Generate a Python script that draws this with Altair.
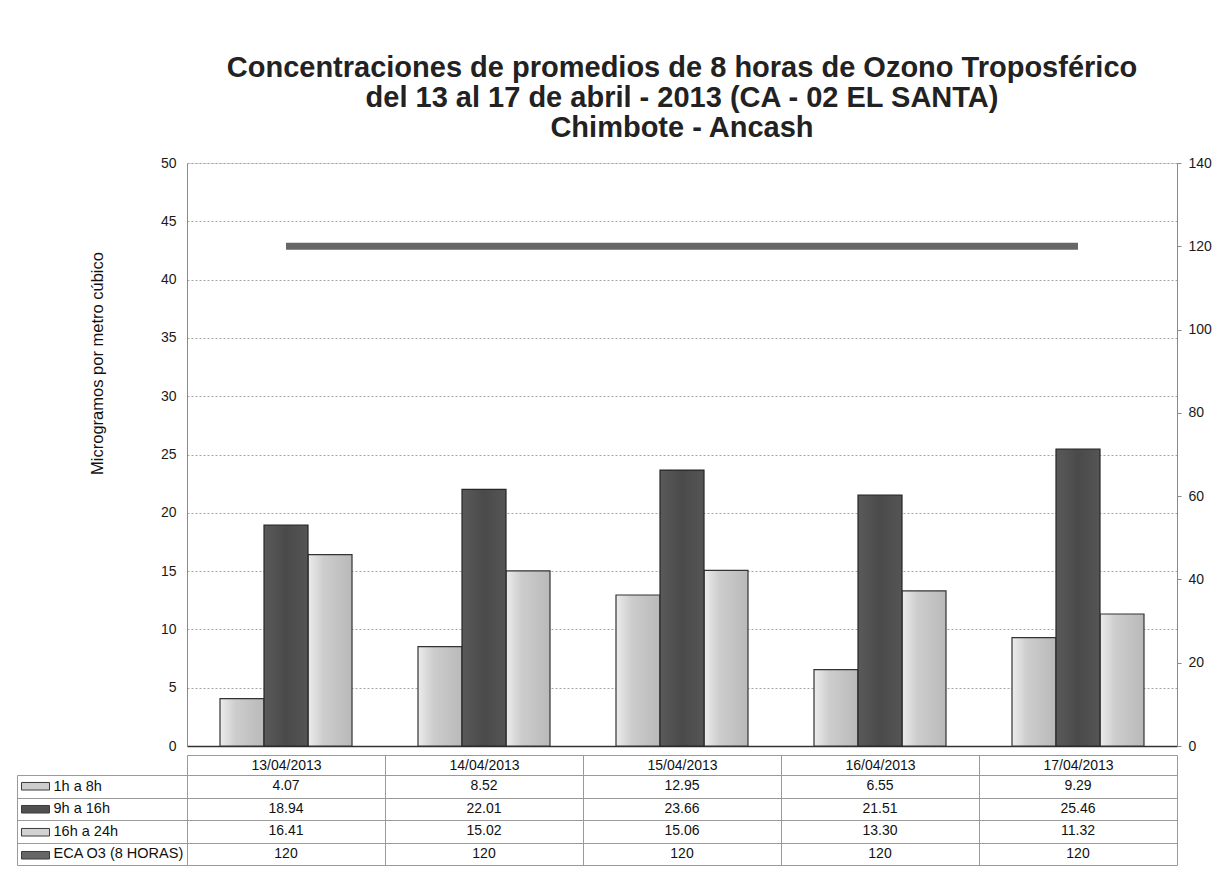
import altair as alt
import pandas as pd

# ---------------- data ----------------
dates = ["13/04/2013", "14/04/2013", "15/04/2013", "16/04/2013", "17/04/2013"]
series_names = ["1h a 8h", "9h a 16h", "16h a 24h"]
vals_1h_8h = [4.07, 8.52, 12.95, 6.55, 9.29]
vals_9h_16h = [18.94, 22.01, 23.66, 21.51, 25.46]
vals_16h_24h = [16.41, 15.02, 15.06, 13.30, 11.32]
eca_name = "ECA O3 (8 HORAS)"
eca_vals = [120, 120, 120, 120, 120]
title_lines = [
    "Concentraciones de promedios de 8 horas de Ozono Troposférico",
    "del 13 al 17 de abril - 2013 (CA - 02 EL SANTA)",
    "Chimbote - Ancash",
]
y_title = "Microgramos por metro cúbico"
left_ticks = [0, 5, 10, 15, 20, 25, 30, 35, 40, 45, 50]
right_ticks = [0, 20, 40, 60, 80, 100, 120, 140]

FONT = "Liberation Sans"

# ---------------- tables built from the arrays ----------------
all_series_vals = [vals_1h_8h, vals_9h_16h, vals_16h_24h]
bar_rows = []
for name, vals in zip(series_names, all_series_vals):
    for d, v in zip(dates, vals):
        bar_rows.append({"date": d, "series": name, "value": v})
bars_df = pd.DataFrame(bar_rows)
eca_df = pd.DataFrame({"date": dates, "eca": eca_vals})

row_order = series_names + [eca_name]
table_rows = []
for name, vals in zip(series_names, all_series_vals):
    for d, v in zip(dates, vals):
        table_rows.append({"date": d, "row": name, "txt": f"{v:.2f}"})
for d, v in zip(dates, eca_vals):
    table_rows.append({"date": d, "row": eca_name, "txt": f"{v}"})
table_df = pd.DataFrame(table_rows)

# ---------------- bar chart ----------------
light_grad = alt.Gradient(
    gradient="linear", x1=0, x2=1, y1=0, y2=0,
    stops=[alt.GradientStop(color="#ececec", offset=0),
           alt.GradientStop(color="#cdcdcd", offset=0.35),
           alt.GradientStop(color="#b9b9b9", offset=1)])
dark_grad = alt.Gradient(
    gradient="linear", x1=0, x2=1, y1=0, y2=0,
    stops=[alt.GradientStop(color="#5a5a5a", offset=0),
           alt.GradientStop(color="#4a4a4a", offset=0.5),
           alt.GradientStop(color="#555555", offset=1)])

x_bar = alt.X("date:N",
              scale=alt.Scale(domain=dates, paddingInner=0.3333, paddingOuter=0.1667),
              axis=alt.Axis(title=None, labels=False, ticks=False, domain=True,
                            domainColor="#333333", domainWidth=1.3, grid=False))
xoff = alt.XOffset("series:N", scale=alt.Scale(domain=series_names, paddingInner=0, paddingOuter=0))
y_left = alt.Y("value:Q",
               scale=alt.Scale(domain=[0, 50], nice=False),
               axis=alt.Axis(values=left_ticks, title=y_title, titleFont=FONT, titleFontSize=16.5,
                             titleFontWeight="normal", titleColor="#111111", titleX=-90, titleY=200,
                             titleBaseline="middle",
                             labelFont=FONT, labelFontSize=14, labelColor="#1a1a1a", labelPadding=11,
                             ticks=False, domain=True, domainColor="#8a8a8a",
                             grid=True, gridColor="#a5a5a5", gridDash=[2, 2], gridWidth=1))

light = alt.Chart(bars_df).transform_filter(
    alt.FieldOneOfPredicate(field="series", oneOf=[series_names[0], series_names[2]])
).mark_bar(fill=light_grad, stroke="#333333", strokeWidth=1.2).encode(x=x_bar, xOffset=xoff, y=y_left)

dark = alt.Chart(bars_df).transform_filter(
    alt.FieldEqualPredicate(field="series", equal=series_names[1])
).mark_bar(fill=dark_grad, stroke="#262626", strokeWidth=1.2).encode(x=x_bar, xOffset=xoff, y=y_left)

line = alt.Chart(eca_df).mark_line(color="#666666", strokeWidth=7).encode(
    x=x_bar,
    y=alt.Y("eca:Q", scale=alt.Scale(domain=[0, 140], nice=False),
            axis=alt.Axis(orient="right", values=right_ticks, title=None, grid=False,
                          ticks=True, tickSize=4, tickColor="#8a8a8a", domain=True,
                          domainColor="#8a8a8a", labelPadding=7, labelFont=FONT,
                          labelFontSize=14, labelColor="#1a1a1a")))

top = alt.layer(alt.layer(light, dark), line).resolve_scale(y="independent").properties(
    width=990, height=583,
    title=alt.TitleParams(text=title_lines, font=FONT, fontSize=29, fontWeight="bold",
                          color="#222222", anchor="middle", frame="group",
                          lineHeight=30, offset=13))

# ---------------- data table ----------------
x_tab_scale = alt.Scale(domain=dates, paddingInner=0, paddingOuter=0)
y_tab_scale = alt.Scale(domain=row_order, paddingInner=0, paddingOuter=0)

cells = alt.Chart(table_df).mark_text(font=FONT, fontSize=14, color="#111111").encode(
    x=alt.X("date:N", scale=x_tab_scale,
            axis=alt.Axis(orient="top", title=None, labelAngle=0, labelPadding=-10,
                          labelBaseline="middle", labelFont=FONT, labelFontSize=14,
                          labelColor="#111111", tickBand="extent", tickSize=20,
                          tickColor="#9a9a9a", domain=True, domainColor="#9a9a9a",
                          grid=True, gridColor="#9a9a9a")),
    y=alt.Y("row:N", scale=y_tab_scale,
            axis=alt.Axis(orient="left", title=None, labelAlign="left", labelPadding=-36,
                          labelBaseline="middle", labelFont=FONT, labelFontSize=14.5,
                          labelColor="#111111", labelLimit=0, tickBand="extent", tickSize=170,
                          tickColor="#9a9a9a", domain=False, grid=True, gridColor="#9a9a9a")),
    text="txt:N")

frame = alt.Chart(table_df).mark_text(text="").encode(
    x=alt.X("date:N", scale=x_tab_scale,
            axis=alt.Axis(orient="top", offset=20, title=None, labels=False, ticks=False,
                          grid=False, domain=True, domainColor="#9a9a9a")),
    y=alt.Y("row:N", scale=y_tab_scale,
            axis=alt.Axis(orient="left", offset=170, title=None, labels=False, ticks=False,
                          grid=False, domain=True, domainColor="#9a9a9a")),
    color=alt.Color("row:N",
                    scale=alt.Scale(domain=row_order,
                                    range=["#cdcdcd", "#505050", "#d2d2d2", "#666666"]),
                    legend=alt.Legend(orient="none", legendX=-166, legendY=0, title=None,
                                      labelExpr="''", labelFontSize=1,
                                      symbolType="M-1,-0.27H1V0.27H-1Z", symbolSize=784,
                                      symbolStrokeColor="#3c3c3c", symbolStrokeWidth=1,
                                      symbolOpacity=1, clipHeight=22.5, rowPadding=0,
                                      padding=0)))

table = alt.layer(cells, frame).resolve_axis(x="independent", y="independent").properties(
    width=990, height=90)

chart = alt.vconcat(top, table, spacing=0).resolve_scale(color="independent").properties(
    padding={"left": 8, "top": 45, "right": 5, "bottom": 5}
).configure_view(stroke=None).configure(background="white")

chart.save("out.html", embed_options={"renderer": "svg", "actions": False})
